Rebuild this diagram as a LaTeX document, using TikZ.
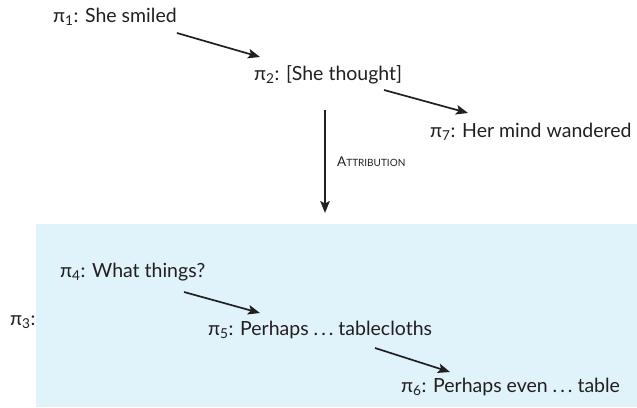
\documentclass[tikz,border=0pt]{standalone}
\usepackage{fontspec}
\setmainfont{Lato}
\usetikzlibrary{arrows.meta,calc}
\definecolor{boxblue}{RGB}{224,242,250}
\definecolor{ink}{RGB}{35,31,32}
\tikzset{
  lbl/.style={anchor=base west, inner sep=0pt, text=ink, font=\fontsize{19.5}{22}\selectfont},
  arr/.style={draw=ink, line width=1.7pt, -{Stealth[length=12pt,width=9.5pt,inset=2.5pt]}},
}
\newcommand{\pisub}[1]{π\textsubscript{#1}}
\newcommand{\sdots}{.\kern3pt.\kern3pt.}
\begin{document}
\begin{tikzpicture}[x=1pt,y=-1pt]
\useasboundingbox (0,0) rectangle (637,407);
\node[fill=boxblue, inner sep=0pt, minimum width=601pt, minimum height=183pt, anchor=north west] (box) at (36,224) {};
\node[lbl] (n1) at (53,22) {\pisub{1}: She smiled};
\node[lbl] (n2) at (254,80) {\pisub{2}: [She thought]};
\node[lbl] (n7) at (430,137) {\pisub{7}: Her mind wandered};
\node[lbl] (n3) at (10,325) {\pisub{3}:};
\node[lbl] (n4) at (60,277) {\pisub{4}: What things?};
\node[lbl] (n5) at (208,335) {\pisub{5}: Perhaps \sdots\ tablecloths};
\node[lbl] (n6) at (401,392) {\pisub{6}: Perhaps even \sdots\ table};
\coordinate (atop) at ([xshift=71pt,yshift=-30pt]n2.base west);
\coordinate (abot) at ([yshift=11pt]atop |- box.north);
\node[anchor=base west, inner sep=0pt, text=ink] (attr) at ([xshift=12pt]$(atop)!0.55!(abot)$) {\fontsize{13.5}{15}\selectfont A\fontsize{10}{12}\selectfont TTRIBUTION};
\draw[arr] ([yshift=-11pt]n1.base east) -- ([xshift=6pt,yshift=23pt]n2.base west);
\draw[arr] ([xshift=130pt,yshift=-10pt]n2.base west) -- ([xshift=38pt,yshift=24pt]n7.base west);
\draw[arr] (atop) -- (abot);
\draw[arr] ([xshift=124pt,yshift=-15pt]n4.base west) -- ([xshift=52pt,yshift=22pt]n5.base west);
\draw[arr] ([xshift=167pt,yshift=-13pt]n5.base west) -- ([xshift=49pt,yshift=20pt]n6.base west);
\end{tikzpicture}
\end{document}
